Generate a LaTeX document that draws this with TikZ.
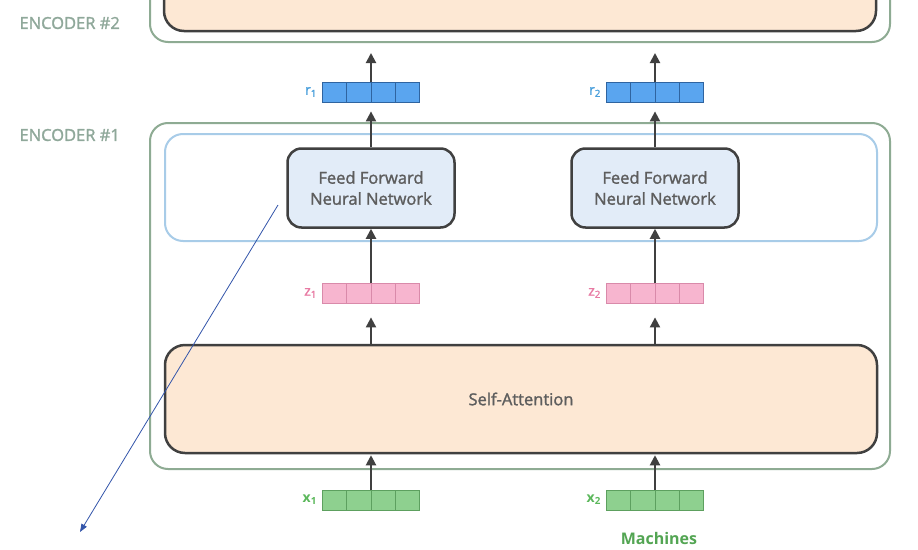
\documentclass[tikz,border=0pt]{standalone}
\usepackage{fontspec}
\setmainfont{Open Sans}
\newfontfamily\thickfont[FakeBold=1.5]{Open Sans}
\usetikzlibrary{arrows.meta}
\definecolor{encgreen}{HTML}{8EAB93}
\definecolor{enctext}{HTML}{8FA89A}
\definecolor{ffnline}{HTML}{A8CCE8}
\definecolor{peach}{HTML}{FDE8D4}
\definecolor{ffnfill}{HTML}{E2ECF8}
\definecolor{boxline}{HTML}{404040}
\definecolor{rfill}{HTML}{5AA5EF}
\definecolor{rline}{HTML}{2F64A0}
\definecolor{rtext}{HTML}{4BA0DC}
\definecolor{zfill}{HTML}{F7B5CF}
\definecolor{zline}{HTML}{D98AAA}
\definecolor{ztext}{HTML}{E87AA3}
\definecolor{xfill}{HTML}{8ED08F}
\definecolor{xline}{HTML}{5DA05F}
\definecolor{xtext}{HTML}{5CB85C}
\definecolor{pen}{HTML}{3355AA}
\tikzset{
  encbox/.style={draw=encgreen,line width=2pt,rounded corners=18pt,inner sep=0pt},
  layerbox/.style={draw=boxline,line width=2.5pt,fill=#1,rounded corners=20pt,inner sep=0pt,text=boxline!85,font=\thickfont\fontsize{16.5}{21}\selectfont},
  vec/.style 2 args={fill=#1,draw=#2,line width=0.8pt,minimum width=97pt,minimum height=20pt,inner sep=0pt,
    path picture={\foreach \k in {1,2,3} \draw[#2,line width=0.8pt] ([xshift=\k*24.25pt]path picture bounding box.south west) -- ([xshift=\k*24.25pt]path picture bounding box.north west);}},
  veclabel/.style={text=#1,font=\thickfont\fontsize{14}{14}\selectfont,inner sep=0pt},
  enclabel/.style={anchor=west,text=enctext,font=\thickfont\fontsize{16.5}{16}\selectfont},
  flow/.style={draw=boxline,line width=2pt,-{Triangle[length=10pt,width=10pt]}},
}
\begin{document}
\begin{tikzpicture}[x=1pt,y=-1pt]
\useasboundingbox[fill=white] (0,0) rectangle (918,549);
\clip (0,0) rectangle (918,549);

% encoder #2 (cut off at the top)
\node[encbox,minimum width=740pt,minimum height=100pt] (enc2) at (520,-8) {};
\node[layerbox=peach,minimum width=712pt,minimum height=100pt] (ffn2layer) at (520,-19) {};
\node[enclabel] (enc2label) at (16,23) {ENCODER \#2};

% encoder #1
\node[encbox,minimum width=740pt,minimum height=346pt] (enc1) at (520,296) {};
\node[enclabel] (enc1label) at (16,135) {ENCODER \#1};
\node[draw=ffnline,line width=2pt,rounded corners=18pt,minimum width=712pt,minimum height=107pt] (ffnlayer) at (521,187.5) {};
\node[layerbox=peach,minimum width=712pt,minimum height=108pt] (selfatt) at (521,399) {Self-Attention};

\foreach \i/\xx in {1/371,2/655}{
  \node[layerbox=ffnfill,rounded corners=14pt,minimum width=167pt,minimum height=79pt,align=center] (ffn\i) at (\xx,188) {Feed Forward\\Neural Network};
  \node[vec={rfill}{rline}] (r\i) at (\xx,92) {};
  \node[vec={zfill}{zline}] (z\i) at (\xx,293) {};
  \node[vec={xfill}{xline}] (x\i) at (\xx,500) {};
  \node[veclabel=rtext,anchor=east] (r\i label) at ([xshift=-5pt]r\i.west) {r\textsubscript{\i}};
  \node[veclabel=ztext,anchor=east] (z\i label) at ([xshift=-5pt]z\i.west) {z\textsubscript{\i}};
  \node[veclabel=xtext,anchor=east,font=\bfseries\fontsize{14}{14}\selectfont] (x\i label) at ([xshift=-5pt]x\i.west) {x\textsubscript{\i}};
  \draw[flow,shorten >=1pt] (x\i.north) -- (x\i.north |- selfatt.south);
  \draw[flow,shorten >=14pt] (x\i.north |- selfatt.north) -- (z\i.south);
  \draw[flow] (z\i.north) -- (ffn\i.south);
  \draw[flow,shorten >=9pt] (ffn\i.north) -- (r\i.south);
  \draw[flow,shorten >=10pt] (r\i.north) -- (r\i.north |- enc2.south);
}

\node[text=xtext!90!black,font=\bfseries\fontsize{16}{16}\selectfont] (word2) at (659,538) {Machines};

% pen stroke
\coordinate (penstart) at (278,205);
\coordinate (penend) at (80,532);
\draw[pen,line width=0.8pt,-{Triangle[length=8pt,width=6pt]}] (penstart) -- (penend);
\end{tikzpicture}
\end{document}
